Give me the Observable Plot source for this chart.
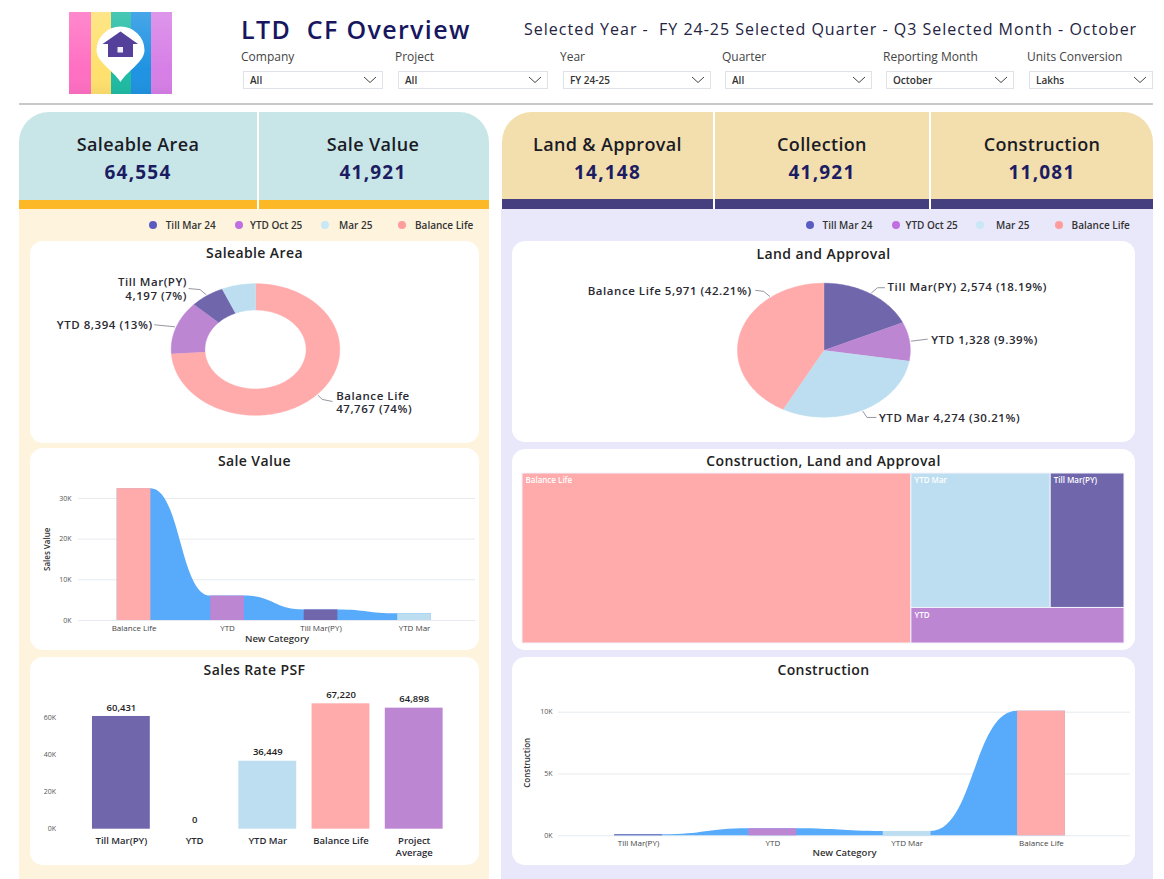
<!DOCTYPE html>
<html>
<head>
<meta charset="utf-8">
<script src="https://cdn.jsdelivr.net/npm/d3@7"></script>
<script src="https://cdn.jsdelivr.net/npm/@observablehq/plot@0.6"></script>
<style>
  html,body{margin:0;padding:0;background:#fff;}
  #page{position:relative;width:1164px;height:879px;overflow:hidden;font-family:"Open Sans",sans-serif;color:#1d1d2b;}
  .abs{position:absolute;}
  .card{position:absolute;background:#fff;border-radius:13px;}
  .cardtitle{position:absolute;left:0;right:0;text-align:center;font-size:14px;font-weight:600;color:#222;letter-spacing:.4px;line-height:16px;}
  .kpi{position:absolute;text-align:center;}
  .kpi .t{position:absolute;left:0;right:0;top:21px;font-size:18px;font-weight:600;color:#1b1b26;line-height:22px;letter-spacing:.35px;}
  .kpi .v{position:absolute;left:0;right:0;top:49px;font-size:19px;font-weight:700;color:#1c1c63;line-height:22px;letter-spacing:1.2px;}
  .slabel{position:absolute;top:50px;font-size:12px;color:#444;line-height:14px;}
  .sbox{position:absolute;top:71px;height:16px;border:1px solid #dfe2e6;background:#fff;box-sizing:content-box;font-size:10px;line-height:16px;color:#333;font-weight:600;text-indent:6px;}
  .sbox svg{position:absolute;right:5px;top:4px;}
  .leg{position:absolute;font-size:10px;font-weight:600;color:#333;line-height:12px;white-space:nowrap;}
  .dot{position:absolute;width:8px;height:8px;border-radius:50%;}
  #c1 svg text, #c4 svg text{letter-spacing:.55px;}
</style>
</head>
<body>
<div id="page">
  <svg class="abs" style="left:69px;top:12px" width="103" height="82" viewBox="69 12 103 82">
    <defs>
      <linearGradient id="sh" x1="0" y1="0" x2="0" y2="1">
        <stop offset="0" stop-color="#fff" stop-opacity=".18"/><stop offset=".7" stop-color="#fff" stop-opacity="0"/><stop offset="1" stop-color="#000" stop-opacity=".04"/>
      </linearGradient>
    </defs>
    <rect x="69" y="12" width="22" height="82" fill="#ff6fc2"/>
    <rect x="91" y="12" width="20" height="82" fill="#ffe06e"/>
    <rect x="111" y="12" width="20" height="82" fill="#20bba4"/>
    <rect x="131" y="12" width="20" height="82" fill="#1f93e2"/>
    <rect x="151" y="12" width="21" height="82" fill="#d67fe6"/>
    <rect x="69" y="12" width="103" height="82" fill="url(#sh)"/>
    <path d="M120.5 82 C113 70 96.5 62 96.5 50 A24 23.5 0 0 1 144.5 50 C144.5 62 128 70 120.5 82Z" fill="#fff"/>
    <path d="M120.5 31.5 L138 44 L133 44 L133 57 L108 57 L108 44 L102.5 44Z" fill="#54409a"/>
    <rect x="117.5" y="47" width="5.5" height="5.5" fill="#f0eef8"/>
  </svg>

  <div class="abs" style="left:241px;top:12px;font-size:25px;font-weight:600;color:#17175f;white-space:pre;letter-spacing:1.35px;line-height:34px;">LTD  CF Overview</div>
  <div class="abs" style="left:524px;top:19px;font-size:16px;font-weight:500;color:#23233f;white-space:pre;letter-spacing:1px;line-height:20px;">Selected Year -  FY 24-25 Selected Quarter - Q3 Selected Month - October</div>
  <div id="slicers"></div>

  <div class="abs" style="left:19px;top:103px;width:1134px;height:1.5px;background:#c9c9c9;"></div>

  <div class="abs" style="left:19px;top:209px;width:470px;height:670px;background:#fef3dd;"></div>
  <div class="abs" style="left:501px;top:209px;width:652px;height:670px;background:#e9e8fb;"></div>

  <div class="abs" style="left:19px;top:112px;width:470px;height:88px;background:#c8e6e8;border-radius:30px 30px 0 0;"></div>
  <div class="abs" style="left:19px;top:200px;width:470px;height:9px;background:#fdb827;"></div>
  <div class="abs" style="left:502px;top:112px;width:651px;height:88px;background:#f3dfae;border-radius:30px 30px 0 0;"></div>
  <div class="abs" style="left:502px;top:199px;width:651px;height:10px;background:#453f80;"></div>
  <div class="abs" style="left:257px;top:112px;width:2px;height:97px;background:#fff;"></div>
  <div class="abs" style="left:713px;top:112px;width:2px;height:97px;background:#fff;"></div>
  <div class="abs" style="left:929px;top:112px;width:2px;height:97px;background:#fff;"></div>

  <div id="kpis"></div>
  <div id="legends"></div>

  <div class="card" id="c1" style="left:30px;top:241px;width:449px;height:202px;"></div>
  <div class="card" id="c2" style="left:30px;top:448px;width:449px;height:202px;"></div>
  <div class="card" id="c3" style="left:30px;top:657px;width:449px;height:208px;"></div>
  <div class="card" id="c4" style="left:512px;top:241px;width:623px;height:201px;"></div>
  <div class="card" id="c5" style="left:512px;top:449px;width:623px;height:201px;"></div>
  <div class="card" id="c6" style="left:512px;top:657px;width:623px;height:208px;"></div>
</div>

<script>
// ---------- data ----------
const slicerNames = ["Company", "Project", "Year", "Quarter", "Reporting Month", "Units Conversion"];
const slicerValues = ["All", "All", "FY 24-25", "All", "October", "Lakhs"];
const kpiNames = ["Saleable Area", "Sale Value", "Land & Approval", "Collection", "Construction"];
const kpiValues = ["64,554", "41,921", "14,148", "41,921", "11,081"];
const legendNames = ["Till Mar 24", "YTD Oct 25", "Mar 25", "Balance Life"];

const areaCategories = ["Balance Life", "YTD", "Till Mar(PY)", "YTD Mar"];
const areaValues = [47767, 8394, 4197, 4196];
const areaLabels = ["Balance Life\n47,767 (74%)", "YTD 8,394 (13%)", "Till Mar(PY)\n4,197 (7%)", ""];

const landCategories = ["Till Mar(PY)", "YTD", "YTD Mar", "Balance Life"];
const landValues = [2574, 1328, 4274, 5971];
const landLabels = ["Till Mar(PY) 2,574 (18.19%)", "YTD 1,328 (9.39%)", "YTD Mar 4,274 (30.21%)", "Balance Life 5,971 (42.21%)"];

const saleCategories = ["Balance Life", "YTD", "Till Mar(PY)", "YTD Mar"];
const saleValues = [32400, 6000, 2600, 1650];

const rateCategories = ["Till Mar(PY)", "YTD", "YTD Mar", "Balance Life", "Project\nAverage"];
const rateValues = [60431, 0, 36449, 67220, 64898];

const treeCategories = ["Balance Life", "YTD Mar", "Till Mar(PY)", "YTD"];
const treeValues = [16298, 4617, 2447, 1867];

const constructionCategories = ["Till Mar(PY)", "YTD", "YTD Mar", "Balance Life"];
const constructionValues = [80, 570, 350, 10081];

// ---------- palette ----------
const colorOf = {"Balance Life":"#ffabab","YTD":"#bd86d2","Till Mar(PY)":"#6f66ac","YTD Mar":"#bcdef0","Project\nAverage":"#bd86d2"};
const ribbon = "#57abfa";
const font = "'Open Sans', sans-serif";

// ---------- chrome ----------
const slicerBoxes = [[243,140],[398,150],[563,148],[725,147],[886,128],[1029,124]];
const slicerLabelX = [241,395,560,722,883,1027];
const slicers = document.getElementById("slicers");
slicerNames.forEach((n,i)=>{
  const [x,w] = slicerBoxes[i];
  slicers.insertAdjacentHTML("beforeend",
    `<div class="slabel" style="left:${slicerLabelX[i]}px">${n}</div>
     <div class="sbox" style="left:${x}px;width:${w-2}px">${slicerValues[i]}
       <svg width="14" height="8" viewBox="0 0 14 8"><path d="M1 1 L7 6.5 L13 1" fill="none" stroke="#444" stroke-width="1"/></svg></div>`);
});
const kpiBoxes = [[19,238],[259,228],[502,211],[715,214],[931,222]];
const kpis = document.getElementById("kpis");
kpiNames.forEach((n,i)=>{
  const [x,w] = kpiBoxes[i];
  kpis.insertAdjacentHTML("beforeend",
    `<div class="kpi" style="left:${x}px;top:112px;width:${w}px;height:88px"><div class="t">${n}</div><div class="v">${kpiValues[i]}</div></div>`);
});
const legendRows = [
  {dots:[153,239,324.5,402], text:[165.7,250,339,415]},
  {dots:[810,895.5,980,1059], text:[822.5,905.5,996,1071.6]}
];
const dotColors = ["#5a5cc0","#c06fe0","#c9e8f6","#ff9c9c"];
const legends = document.getElementById("legends");
legendRows.forEach(r=>legendNames.forEach((n,i)=>{
  legends.insertAdjacentHTML("beforeend",
    `<div class="dot" style="left:${r.dots[i]-4}px;top:221px;background:${dotColors[i]}"></div>
     <div class="leg" style="left:${r.text[i]}px;top:219px">${n}</div>`);
}));
function title(id, text, top){
  document.getElementById(id).insertAdjacentHTML("beforeend", `<div class="cardtitle" style="top:${top}px">${text}</div>`);
}
[["c1","Saleable Area",4],["c2","Sale Value",5],["c3","Sales Rate PSF",5],["c4","Land and Approval",5],["c5","Construction, Land and Approval",4],["c6","Construction",5]].forEach(([a,b,t])=>title(a,b,t));
function mount(id, svg){
  svg.style.position="absolute"; svg.style.left="0"; svg.style.top="0";
  document.getElementById(id).appendChild(svg);
}

// ---------- pies (slices are polygons in x/y scale space, elliptical as in the picture) ----------
function sliceTable(cats, vals, inner){
  const arcs = d3.pie().sort(null)(vals);
  const pts = [], mids = new Map();
  arcs.forEach((a,i)=>{
    const n = Math.max(4, Math.ceil((a.endAngle-a.startAngle)/0.02));
    const A = d3.range(n+1).map(k=>a.startAngle+(a.endAngle-a.startAngle)*k/n);
    A.forEach(t=>pts.push({k:cats[i],x:Math.sin(t),y:Math.cos(t)}));
    if(inner>0) A.slice().reverse().forEach(t=>pts.push({k:cats[i],x:inner*Math.sin(t),y:inner*Math.cos(t)}));
    else pts.push({k:cats[i],x:0,y:0});
    mids.set(cats[i],(a.startAngle+a.endAngle)/2);
  });
  return {pts,mids};
}
function piePlot({cats,vals,labels,inner,w,h,cx,cy,rx,ry,callouts}){
  const {pts,mids} = sliceTable(cats,vals,inner);
  const marks = [Plot.line(pts,{x:"x",y:"y",z:"k",fill:"k",stroke:"k",strokeWidth:.5,curve:"linear"})];
  callouts.forEach(c=>{
    const i = cats.indexOf(c.cat);
    const t = c.angle!==undefined ? c.angle*Math.PI/180 : mids.get(c.cat);
    const ax = Math.sin(t)*1.02, ay = Math.cos(t)*1.02;
    const path = [{x:ax,y:ay}].concat(c.path.map(([dx,dy])=>({x:ax+dx/rx,y:ay-dy/ry})));
    marks.push(Plot.line(path,{x:"x",y:"y",stroke:"#8a8a96",strokeWidth:.9,curve:"linear"}));
    const end = path[path.length-1];
    marks.push(Plot.text([labels[i]],{x:()=>end.x,y:()=>end.y,text:d=>d,dx:c.dx,dy:c.dy||0,textAnchor:c.anchor,
      fontSize:11.5,fontWeight:600,fill:"#2a2a33",lineHeight:1.16}));
  });
  return Plot.plot({
    width:w,height:h,margin:0,
    style:{background:"transparent",fontFamily:font},
    x:{axis:null,domain:[-cx/rx,(w-cx)/rx],range:[0,w]},
    y:{axis:null,domain:[(cy-h)/ry,cy/ry],range:[h,0]},
    color:{domain:cats,range:cats.map(c=>colorOf[c])},
    marks
  });
}
mount("c1",piePlot({cats:areaCategories,vals:areaValues,labels:areaLabels,inner:.6,w:449,h:202,cx:225,cy:108,rx:84.3,ry:65.8,
  callouts:[
    {cat:"Balance Life",path:[[4,4],[14,6]],dx:4,dy:1,anchor:"start"},
    {cat:"YTD",path:[[-20,-2]],dx:-2,dy:0,anchor:"end"},
    {cat:"Till Mar(PY)",path:[[-6,-5],[-17,-6]],dx:-2,dy:0,anchor:"end"}
  ]}));
mount("c4",piePlot({cats:landCategories,vals:landValues,labels:landLabels,inner:0,w:623,h:201,cx:311.4,cy:108.7,rx:86.4,ry:67,
  callouts:[
    {cat:"Till Mar(PY)",path:[[6,-5],[13,-5]],dx:3,dy:-1,anchor:"start"},
    {cat:"YTD",path:[[16,-2]],dx:4,dy:1,anchor:"start"},
    {cat:"YTD Mar",path:[[4,6],[13,6]],dx:3,dy:0,anchor:"start"},
    {cat:"Balance Life",angle:322,path:[[-6,-5],[-14,-6]],dx:-4,dy:0,anchor:"end"}
  ]}));

// ---------- ribbon-style columns ----------
function ribbonPlot({cats,vals,w,h,xDomain,yMax,ticks,m,yTitle,titleX,titleDy,tickPad,half,xTitleDy}){
  const bars = cats.map((c,i)=>({c,x1:i-half,x2:i+half,v:vals[i]}));
  const band = bars.flatMap(b=>[{x:b.x1,v:b.v},{x:b.x2,v:b.v}]);
  return Plot.plot({
    width:w,height:h,...m,
    style:{background:"transparent",fontFamily:font},
    x:{domain:xDomain,axis:null},
    y:{domain:[0,yMax],axis:null},
    color:{domain:Object.keys(colorOf),range:Object.values(colorOf)},
    marks:[
      Plot.gridY(ticks,{stroke:"#e6eaee",strokeOpacity:1,strokeWidth:1}),
      Plot.areaY(band,{x:"x",y:"v",fill:ribbon,curve:"bump-x"}),
      Plot.rect(bars,{x1:"x1",x2:"x2",y1:0,y2:"v",fill:"c"}),
      Plot.axisY({ticks,tickFormat:d=>d/1000+"K",tickSize:0,tickPadding:tickPad,fontSize:7,label:null,color:"#555"}),
      Plot.axisX({ticks:d3.range(cats.length),tickFormat:i=>cats[i],tickSize:0,tickPadding:5,fontSize:8,label:null,color:"#444",fontWeight:500}),
      Plot.text(["New Category"],{frameAnchor:"bottom",dy:xTitleDy,fontSize:9.5,fontWeight:600,fill:"#333"}),
      Plot.text([yTitle],{frameAnchor:"left",textAnchor:"middle",rotate:-90,dx:titleX,dy:titleDy,fontSize:8,fontWeight:600,fill:"#333"})
    ]
  });
}
const s2 = ribbonPlot({cats:saleCategories,vals:saleValues,w:449,h:202,
  xDomain:[-0.594,3.652],yMax:35000,ticks:[0,10000,20000,30000],m:{marginLeft:48,marginRight:4,marginTop:29.55,marginBottom:30},
  yTitle:"Sales Value",titleX:-31,titleDy:0,tickPad:7,half:.18,xTitleDy:21});
mount("c2",s2);
const s6 = ribbonPlot({cats:constructionCategories,vals:constructionValues,w:623,h:208,
  xDomain:[-0.596,3.663],yMax:11000,ticks:[0,5000,10000],m:{marginLeft:46,marginRight:5,marginTop:42.3,marginBottom:29.7},
  yTitle:"Construction",titleX:-31,titleDy:-5,tickPad:6,half:.178,xTitleDy:20});
mount("c6",s6);

// ---------- sales rate ----------
const rateRows = rateCategories.map((c,i)=>({c,v:rateValues[i]}));
mount("c3",Plot.plot({
  width:449,height:208,marginLeft:46.6,marginRight:21,marginTop:31.8,marginBottom:36.3,
  style:{background:"transparent",fontFamily:font},
  x:{domain:rateCategories,padding:.21,round:false,axis:null},
  y:{domain:[0,75000],axis:null},
  color:{domain:Object.keys(colorOf),range:Object.values(colorOf)},
  marks:[
    Plot.barY(rateRows,{x:"c",y:"v",fill:"c"}),
    Plot.text(rateRows,{x:"c",y:"v",text:d=>d3.format(",")(d.v),dy:-9,fontSize:9.5,fontWeight:600,fill:"#222"}),
    Plot.axisY({ticks:[0,20000,40000,60000],tickFormat:d=>d/1000+"K",tickSize:0,tickPadding:21,fontSize:7,label:null,color:"#555"}),
    Plot.axisX({tickSize:0,tickPadding:7,fontSize:9.5,fontWeight:600,lineHeight:1.2,label:null,color:"#2a2a33"})
  ]
}));

// ---------- treemap ----------
const byName = n=>({name:n,value:treeValues[treeCategories.indexOf(n)]});
const treeRoot = d3.hierarchy({children:[byName("Balance Life"),{children:[{children:[byName("YTD Mar"),byName("Till Mar(PY)")]},byName("YTD")]}]})
  .sum(d=>d.value||0);
d3.treemap().size([1,1]).round(false).tile((n,a,b,c,d)=>(n.depth%2?d3.treemapSlice:d3.treemapDice)(n,a,b,c,d))(treeRoot);
const cells = treeRoot.leaves().map(l=>({c:l.data.name,x0:l.x0,x1:l.x1,y0:l.y0,y1:l.y1}));
mount("c5",Plot.plot({
  width:623,height:201,marginLeft:10,marginRight:11,marginTop:24,marginBottom:7,
  style:{background:"transparent",fontFamily:font},
  x:{domain:[0,1],axis:null},
  y:{domain:[0,1],reverse:true,axis:null},
  color:{domain:Object.keys(colorOf),range:Object.values(colorOf)},
  marks:[
    Plot.rect(cells,{x1:"x0",x2:"x1",y1:"y0",y2:"y1",fill:"c",stroke:"#f3f2fc",strokeWidth:1}),
    Plot.text(cells,{x:"x0",y:"y0",text:"c",dx:3,dy:7,textAnchor:"start",fontSize:8,fontWeight:600,fill:"#fff"})
  ]
}));
</script>
</body>
</html>
